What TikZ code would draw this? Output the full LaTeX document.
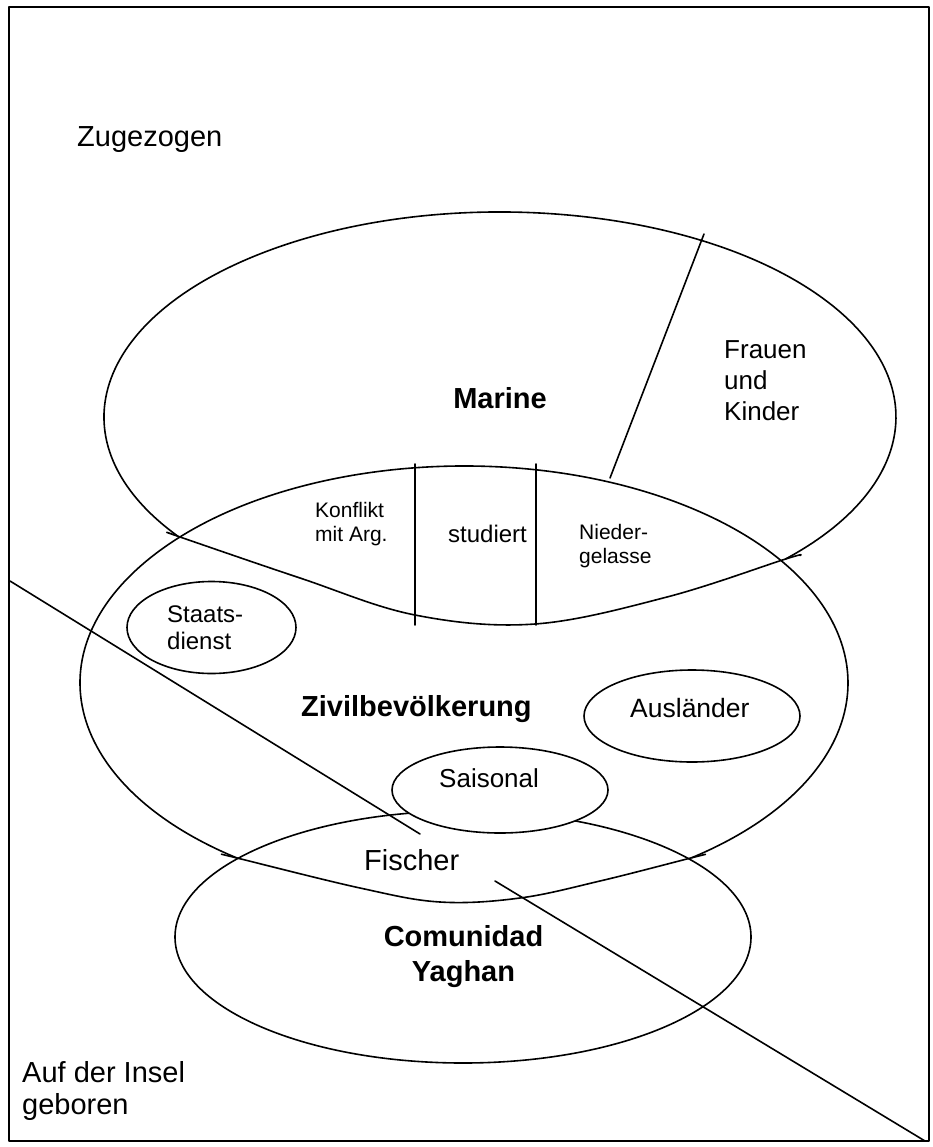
\documentclass[tikz,border=0pt]{standalone}
\usepackage{fontspec}
\setmainfont{Liberation Sans}
% stacked lines of text whose baseline is that of the first line
\newcommand\txtrows[2][l]{\begin{tabular}[t]{@{}#1@{}}#2\end{tabular}}
\newcommand\setfs[2]{\fontsize{#1}{#2}\selectfont}

\begin{document}
\begin{tikzpicture}[x=1pt,y=-1pt,
  outline/.style={line width=1.6pt, line join=round, line cap=round},
  lbl/.style={inner sep=0pt, anchor=base west},
  big/.style={font=\setfs{29}{34}},
  bigbold/.style={font={\setfs{29}{35}\bfseries}},
]
\useasboundingbox (0,0) rectangle (932,1147);

% frame
\draw[outline] (9,7) rectangle (929,1141);

% key points
\coordinate (marL) at (178,536.3);
\coordinate (zivL) at (237.0,858.0);
\coordinate (comC) at (463,937);
\coordinate (staC) at (211.5,627.5);
\coordinate (ausC) at (692,716);
\coordinate (saiC) at (500,790);
\coordinate (sepA) at (704,234);
\coordinate (sepB) at (610,478);
\coordinate (vA1) at (415,464);
\coordinate (vA2) at (415,625);
\coordinate (vB1) at (536,464);
\coordinate (vB2) at (536,625);
\coordinate (diagA1) at (10,581);
\coordinate (diagA2) at (420,834);
\coordinate (diagB1) at (495,881);
\coordinate (diagB2) at (925,1141);

% Marine: elliptic top with a drooping lower edge
\draw[outline] (marL) arc[start angle=215.6, end angle=-43.9, x radius=396pt, y radius=205pt];
\draw[outline] plot[smooth, tension=0.6] coordinates
  {(800,555.5) (785.3,559.1) (667,597) (535,624) (415,615) (300,578) (178,536.3) (172,534)};

% Zivilbevoelkerung: elliptic top with a drooping lower edge
\draw[outline] (zivL) arc[start angle=233.76, end angle=-53.6, x radius=384pt, y radius=217pt];
\draw[outline] plot[smooth, tension=0.6] coordinates
  {(705,854.5) (691.9,857.7) (600,881) (520,898) (440,902) (360,888) (237,858) (223,854.6)};

% Comunidad Yaghan
\draw[outline] (comC) ellipse[x radius=288pt, y radius=126pt];

% dividers
\draw[outline] (sepA) -- (sepB);
\draw[outline] (vA1) -- (vA2);
\draw[outline] (vB1) -- (vB2);

% diagonals
\draw[outline] (diagA1) -- (diagA2);
\draw[outline] (diagB1) -- (diagB2);

% small groups
\draw[outline] (staC) ellipse[x radius=84.5pt, y radius=46pt];
\draw[outline, fill=white] (ausC) ellipse[x radius=108pt, y radius=46pt];
\draw[outline, fill=white] (saiC) ellipse[x radius=108pt, y radius=43pt];

% labels
\node[lbl, big] (zug) at (77,147) {Zugezogen};
\node[inner sep=0pt, anchor=base, bigbold] (marine) at (500,408) {Marine};
\node[lbl, font=\setfs{26}{31}] (frauen) at (724,358) {\txtrows{Frauen\\und\\Kinder}};
\node[lbl, font=\setfs{21}{24}] (konflikt) at (315,517) {\txtrows{Konflikt\\mit Arg.}};
\node[lbl, font=\setfs{24}{28}] (studiert) at (448,542) {studiert};
\node[lbl, font=\setfs{21}{24}] (nieder) at (579,539) {\txtrows{Nieder-\\gelasse}};
\node[lbl, font=\setfs{24}{27}] (staats) at (167,622) {\txtrows{Staats-\\dienst}};
\node[lbl, bigbold] (zivil) at (301,716) {Zivilbevölkerung};
\node[lbl, font=\setfs{26.5}{31}] (ausl) at (630,717) {Ausländer};
\node[lbl, font=\setfs{26}{31}] (saison) at (439,787) {Saisonal};
\node[lbl, big] (fischer) at (364,870) {Fischer};
\node[inner sep=0pt, anchor=base, bigbold] (yaghan) at (463.5,946) {\txtrows[c]{Comunidad\\Yaghan}};
\node[lbl, font=\setfs{29}{32}] (insel) at (22,1082) {\txtrows{Auf der Insel\\geboren}};
\end{tikzpicture}
\end{document}
